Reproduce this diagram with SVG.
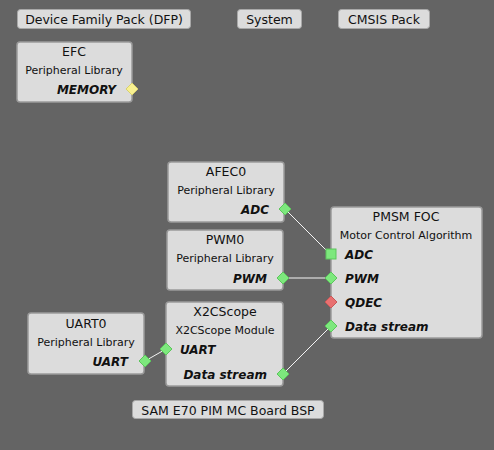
<svg xmlns="http://www.w3.org/2000/svg" width="494" height="450" viewBox="0 0 494 450">
<style>
.btn{fill:#dcdcdc;stroke:#a8a8a8;stroke-width:1}
.node{fill:#dcdcdc;stroke:#9a9a9a;stroke-width:1.5}
.bt{font-family:"DejaVu Sans",Verdana,sans-serif;font-size:12.5px;fill:#111;text-anchor:middle}
.tt{font-family:"DejaVu Sans",Verdana,sans-serif;font-size:12.5px;fill:#111;text-anchor:middle}
.st{font-family:"DejaVu Sans",Verdana,sans-serif;font-size:11px;fill:#111;text-anchor:middle}
.pr{font-family:"DejaVu Sans",Verdana,sans-serif;font-size:12px;font-weight:bold;font-style:italic;fill:#111;text-anchor:end}
.pl{font-family:"DejaVu Sans",Verdana,sans-serif;font-size:12px;font-weight:bold;font-style:italic;fill:#111;text-anchor:start}
.g{fill:#7de87d;stroke:#5cc65c;stroke-width:1}
.y{fill:#f8f090;stroke:#d8d070;stroke-width:1}
.r{fill:#e87070;stroke:#c85858;stroke-width:1}
.c{stroke:#f4f4f4;stroke-width:1;fill:none}
</style>
<rect width="494" height="450" fill="#646464"/>
<g id="btn-dfp"><rect class="btn" x="17.5" y="9.5" width="173" height="19" rx="3"/><text class="bt" x="104" y="24">Device Family Pack (DFP)</text></g>
<g id="btn-system"><rect class="btn" x="237.5" y="9.5" width="64" height="19" rx="3"/><text class="bt" x="269.5" y="24">System</text></g>
<g id="btn-cmsis"><rect class="btn" x="338.5" y="9.5" width="91" height="19" rx="3"/><text class="bt" x="384" y="24">CMSIS Pack</text></g>
<g id="btn-bsp"><rect class="btn" x="132.5" y="400.5" width="191" height="18" rx="3"/><text class="bt" x="228" y="414.5">SAM E70 PIM MC Board BSP</text></g>
<g id="connectors">
<line class="c" x1="285" y1="209" x2="328" y2="252"/>
<line class="c" x1="283" y1="278" x2="331" y2="278"/>
<line class="c" x1="145" y1="361" x2="166" y2="349"/>
<line class="c" x1="283" y1="374" x2="331" y2="326"/>
</g>
<g id="efc"><rect class="node" x="17" y="42" width="115" height="60" rx="3"/><text class="tt" x="74" y="56">EFC</text><text class="st" x="74" y="74">Peripheral Library</text><text class="pr" x="116" y="94">MEMORY</text><path class="y" d="M132 83l6 6-6 6-6-6z"/></g>
<g id="afec0"><rect class="node" x="168" y="162" width="116" height="60" rx="3"/><text class="tt" x="226" y="176">AFEC0</text><text class="st" x="226" y="194">Peripheral Library</text><text class="pr" x="269" y="214">ADC</text><path class="g" d="M285 203l6 6-6 6-6-6z"/></g>
<g id="pwm0"><rect class="node" x="167" y="230" width="116" height="60" rx="3"/><text class="tt" x="225" y="244">PWM0</text><text class="st" x="225" y="262">Peripheral Library</text><text class="pr" x="267" y="283">PWM</text><path class="g" d="M283 272l6 6-6 6-6-6z"/></g>
<g id="pmsm"><rect class="node" x="331" y="207" width="151" height="131" rx="3"/><text class="tt" x="406" y="221">PMSM FOC</text><text class="st" x="406" y="239">Motor Control Algorithm</text><text class="pl" x="345" y="259">ADC</text><text class="pl" x="345" y="283">PWM</text><text class="pl" x="345" y="307">QDEC</text><text class="pl" x="345" y="331">Data stream</text><rect class="g" x="326" y="249" width="10" height="10"/><path class="g" d="M331 272l6 6-6 6-6-6z"/><path class="r" d="M331 296l6 6-6 6-6-6z"/><path class="g" d="M331 320l6 6-6 6-6-6z"/></g>
<g id="uart0"><rect class="node" x="28" y="313" width="116" height="61" rx="3"/><text class="tt" x="86" y="328">UART0</text><text class="st" x="86" y="346">Peripheral Library</text><text class="pr" x="128" y="366">UART</text><path class="g" d="M145 355l6 6-6 6-6-6z"/></g>
<g id="x2cscope"><rect class="node" x="166" y="302" width="117" height="84" rx="3"/><text class="tt" x="225" y="316">X2CScope</text><text class="st" x="225" y="334">X2CScope Module</text><text class="pl" x="180" y="354">UART</text><text class="pr" x="267" y="379">Data stream</text><path class="g" d="M166 343l6 6-6 6-6-6z"/><path class="g" d="M283 368l6 6-6 6-6-6z"/></g>
</svg>
